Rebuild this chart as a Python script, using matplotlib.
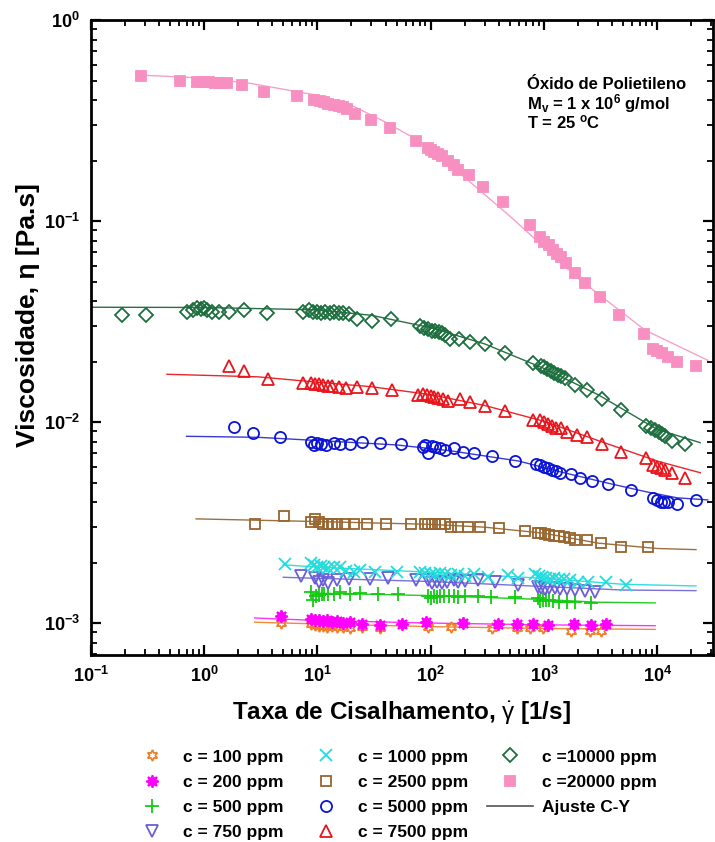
import numpy as np
import matplotlib
matplotlib.use('Agg')
import matplotlib.pyplot as plt
from matplotlib.lines import Line2D
from matplotlib.ticker import LogLocator, FuncFormatter, NullFormatter

plt.rcParams['font.family'] = ['Liberation Sans', 'DejaVu Sans']
plt.rcParams['mathtext.fontset'] = 'custom'
plt.rcParams['mathtext.rm'] = 'Liberation Sans'
plt.rcParams['mathtext.bf'] = 'Liberation Sans:bold'
plt.rcParams['mathtext.it'] = 'Liberation Sans:italic'

# ---- data (shear rate [1/s], viscosity [Pa.s]) ----
x_20000 = [0.28, 0.61, 0.87, 1.0, 1.1, 1.25, 1.4, 1.6, 2.17, 3.4, 6.6, 9.4, 10.5, 11.5, 12.5, 14, 15.5, 17, 18.4,
           21.7, 29.5, 44, 75, 94, 100, 108, 115, 125, 141, 160, 173, 216, 288, 433, 750, 920, 1000, 1100, 1200,
           1300, 1420, 1570, 1870, 2300, 3100, 4600, 7700, 9200, 10000, 11000, 12500, 15000, 21800]
y_20000 = [0.53, 0.50, 0.49, 0.49, 0.49, 0.488, 0.487, 0.485, 0.475, 0.44, 0.42, 0.40, 0.395, 0.39, 0.385, 0.38,
           0.375, 0.37, 0.36, 0.34, 0.32, 0.29, 0.25, 0.23, 0.225, 0.22, 0.215, 0.21, 0.20, 0.19, 0.18, 0.17, 0.148,
           0.124, 0.096, 0.083, 0.079, 0.076, 0.072, 0.069, 0.066, 0.062, 0.055, 0.049, 0.042, 0.034, 0.0275, 0.023,
           0.0225, 0.022, 0.021, 0.020, 0.019]

x_10000 = [0.19, 0.31, 0.71, 0.8, 0.87, 0.93, 1.0, 1.07, 1.18, 1.36, 1.66, 2.26, 3.6, 7.4, 8.5, 9.2, 10, 10.8, 11.7,
           12.8, 14, 15.5, 17, 19, 22.6, 30.6, 45, 80, 88, 95, 102, 110, 118, 125, 133, 147, 177, 222, 300, 450,
           800, 940, 1000, 1070, 1150, 1230, 1320, 1420, 1530, 1900, 2400, 3250, 4800, 8000, 8800, 9500, 10300,
           11000, 11800, 13400, 17600]
y_10000 = [0.034, 0.034, 0.0354, 0.036, 0.037, 0.0365, 0.037, 0.036, 0.0355, 0.0355, 0.0355, 0.036, 0.035, 0.0353,
           0.036, 0.0355, 0.0352, 0.035, 0.0355, 0.035, 0.0352, 0.035, 0.035, 0.0345, 0.0325, 0.032, 0.0325, 0.030,
           0.0295, 0.029, 0.0285, 0.0283, 0.028, 0.0277, 0.0272, 0.026, 0.026, 0.025, 0.0244, 0.022, 0.0196, 0.019,
           0.0187, 0.0183, 0.018, 0.0176, 0.0172, 0.0169, 0.0165, 0.0153, 0.0145, 0.013, 0.0115, 0.0096, 0.0093,
           0.0091, 0.0089, 0.0087, 0.0085, 0.0081, 0.0078]

x_7500 = [1.66, 2.26, 3.7, 7.4, 8.7, 9.5, 10.3, 11.2, 12.3, 13.5, 15.6, 18, 22.6, 30.6, 46, 78, 85, 92, 100, 108,
          117, 128, 141, 180, 222, 300, 450, 800, 920, 1000, 1080, 1170, 1270, 1410, 1600, 1970, 2400, 3250, 4800,
          8000, 9200, 10000, 10900, 11800, 13400, 17600]
y_7500 = [0.019, 0.0179, 0.0163, 0.0156, 0.0157, 0.0155, 0.0155, 0.0153, 0.0152, 0.0151, 0.015, 0.0148, 0.015,
          0.0148, 0.0145, 0.0137, 0.0138, 0.0136, 0.0135, 0.0133, 0.0132, 0.013, 0.0128, 0.013, 0.0126, 0.012,
          0.0114, 0.0102, 0.0102, 0.010, 0.0098, 0.0096, 0.0094, 0.0093, 0.0089, 0.0086, 0.0084, 0.0078, 0.0071,
          0.0066, 0.0061, 0.006, 0.0059, 0.0058, 0.0056, 0.0053]

x_5000 = [1.84, 2.7, 4.7, 8.7, 9.3, 10, 10.7, 11.8, 14, 16, 19.6, 25, 35.5, 55, 85, 89, 95, 102, 110, 120, 133, 160,
          195, 240, 350, 560, 850, 920, 1000, 1080, 1170, 1270, 1400, 1750, 2100, 2670, 3700, 5900, 9200, 9900,
          10700, 11500, 12500, 15000, 21800]
y_5000 = [0.0095, 0.0088, 0.0084, 0.0080, 0.0077, 0.0079, 0.0078, 0.0077, 0.0079, 0.0078, 0.0078, 0.008, 0.0079,
          0.0078, 0.0075, 0.0077, 0.0070, 0.0076, 0.0075, 0.0074, 0.0073, 0.0074, 0.0071, 0.0070, 0.0068, 0.0064,
          0.0062, 0.0061, 0.0060, 0.0059, 0.0058, 0.0057, 0.0056, 0.0055, 0.0053, 0.0051, 0.0049, 0.0046, 0.0042,
          0.0041, 0.0040, 0.0040, 0.0040, 0.0039, 0.0041]

x_2500 = [2.83, 5.1, 8.7, 9.5, 10.3, 11.2, 12.3, 13.5, 15, 17.7, 21, 27.7, 40, 67, 89, 95, 102, 110, 120, 133, 150,
          175, 214, 270, 405, 680, 880, 950, 1030, 1120, 1230, 1350, 1500, 1700, 1900, 2400, 3200, 4800, 8300]
y_2500 = [0.0031, 0.0034, 0.0032, 0.0033, 0.0032, 0.0031, 0.0031, 0.0031, 0.0031, 0.0031, 0.0031, 0.0031, 0.0031,
          0.0031, 0.0031, 0.0031, 0.0031, 0.0031, 0.0031, 0.0031, 0.0030, 0.0030, 0.0030, 0.0030, 0.00296, 0.00287,
          0.0028, 0.0028, 0.00278, 0.00275, 0.00272, 0.0027, 0.00268, 0.00265, 0.0026, 0.0026, 0.0025, 0.0024,
          0.0024]

x_1000 = [5.2, 8.7, 9.3, 10, 10.7, 11.5, 12.5, 14, 16, 18, 21, 24, 32, 50, 81, 90, 100, 110, 120, 135, 150, 175,
          200, 240, 320, 480, 590, 840, 900, 970, 1050, 1130, 1220, 1350, 1500, 1700, 2000, 2460, 3500, 5300]
y_1000 = [0.00197, 0.0020, 0.00195, 0.0019, 0.00192, 0.0019, 0.00188, 0.0019, 0.0019, 0.00182, 0.0018, 0.00183,
          0.0018, 0.0018, 0.0018, 0.00178, 0.00176, 0.00175, 0.00178, 0.00175, 0.00174, 0.00175, 0.00172, 0.00176,
          0.0017, 0.00173, 0.00168, 0.00175, 0.00172, 0.0017, 0.00168, 0.00166, 0.00168, 0.00165, 0.00165, 0.00163,
          0.0016, 0.0016, 0.0016, 0.00155]

x_750 = [7.1, 9.6, 10.4, 11.3, 12.3, 15, 19, 29, 42, 74, 94, 103, 113, 125, 140, 160, 175, 200, 260, 370, 590, 880,
         950, 1030, 1120, 1250, 1400, 1600, 1900, 2300, 2850]
y_750 = [0.00171, 0.00168, 0.0016, 0.00163, 0.00158, 0.00163, 0.00165, 0.00166, 0.00168, 0.00164, 0.00163, 0.00158,
         0.0016, 0.00159, 0.0016, 0.00163, 0.0016, 0.00162, 0.00163, 0.0016, 0.00155, 0.00152, 0.0015, 0.00148,
         0.0015, 0.00149, 0.00148, 0.00147, 0.00146, 0.00144, 0.00142]

x_500 = [8.7, 9.2, 9.7, 10.3, 11, 11.5, 12.5, 14, 16, 19.6, 24, 34, 51, 94, 100, 106, 113, 120, 130, 145, 160, 175,
         200, 260, 340, 550, 880, 930, 990, 1050, 1120, 1200, 1350, 1600, 1900, 2600]
y_500 = [0.00143, 0.0013, 0.00136, 0.00138, 0.0014, 0.00139, 0.0014, 0.0014, 0.00142, 0.0014, 0.00141, 0.0014,
         0.00139, 0.00137, 0.00133, 0.00136, 0.00135, 0.00137, 0.00136, 0.00136, 0.00136, 0.00135, 0.00136,
         0.00136, 0.00135, 0.00135, 0.00133, 0.00129, 0.00131, 0.0013, 0.0013, 0.00129, 0.00128, 0.00128, 0.00127,
         0.00126]

x_200 = [4.8, 8.7, 9.5, 10.3, 11.2, 12.2, 13.5, 15, 17, 19.6, 25, 36, 56, 91, 193, 390, 580, 800, 1080, 1850, 2600,
         3500]
y_200 = [0.00108, 0.00105, 0.00103, 0.00104, 0.00102, 0.00103, 0.00101, 0.00102, 0.001, 0.00101, 0.00099, 0.00098,
         0.00099, 0.00101, 0.001, 0.00099, 0.00099, 0.00099, 0.00098, 0.00099, 0.00098, 0.00099]

x_100 = [4.8, 8.7, 9.5, 10.3, 11.2, 12.2, 13.5, 15, 17, 19.6, 25, 36, 94, 150, 350, 580, 750, 980, 1730, 2550, 3200]
y_100 = [0.001, 0.00099, 0.00098, 0.00097, 0.00097, 0.00096, 0.00097, 0.00096, 0.00096, 0.00095, 0.00096, 0.00095,
         0.00096, 0.00096, 0.00095, 0.00095, 0.00094, 0.00094, 0.00091, 0.00091, 0.00091]

# Carreau-Yasuda fit curves
fx_20000 = [0.28, 1, 2.5, 10, 20, 40, 77, 200, 510, 2000, 7800, 28000]
fy_20000 = [0.533, 0.515, 0.486, 0.423, 0.377, 0.311, 0.253, 0.165, 0.105, 0.052, 0.0287, 0.0203]
fx_10000 = [0.1, 1, 10, 30, 100, 300, 1000, 3000, 10000, 24000]
fy_10000 = [0.0373, 0.0372, 0.0362, 0.034, 0.0295, 0.0245, 0.0185, 0.0137, 0.0092, 0.0079]
fx_7500 = [0.47, 3, 10, 30, 100, 300, 1000, 3000, 10000, 24000]
fy_7500 = [0.0173, 0.0168, 0.0158, 0.015, 0.0137, 0.0121, 0.0101, 0.0081, 0.0064, 0.0056]
fx_5000 = [0.7, 3, 10, 50, 150, 600, 1500, 3500, 8000, 15000, 28000]
fy_5000 = [0.0085, 0.0084, 0.0081, 0.0077, 0.0072, 0.0064, 0.0056, 0.0050, 0.0045, 0.0042, 0.0041]
fx_2500 = [0.85, 10, 100, 300, 1000, 3000, 10000, 22000]
fy_2500 = [0.0033, 0.0032, 0.0031, 0.0030, 0.0028, 0.0025, 0.00235, 0.00232]
fx_1000 = [5, 10, 100, 1000, 5000, 22000]
fy_1000 = [0.00195, 0.0019, 0.00179, 0.00167, 0.00156, 0.00153]
fx_750 = [5, 10, 100, 1000, 5000, 22000]
fy_750 = [0.00169, 0.00167, 0.00161, 0.00152, 0.00146, 0.00145]
fx_500 = [9.4, 100, 1000, 3000, 9600]
fy_500 = [0.00141, 0.00137, 0.00131, 0.00127, 0.00126]
fx_200 = [2.8, 10, 100, 1000, 9600]
fy_200 = [0.00106, 0.00103, 0.001, 0.00098, 0.00097]
fx_100 = [2.8, 10, 100, 1000, 9600]
fy_100 = [0.00101, 0.00099, 0.00096, 0.00094, 0.00093]

labels = ['c = 100 ppm', 'c = 200 ppm', 'c = 500 ppm', 'c = 750 ppm',
          'c = 1000 ppm', 'c = 2500 ppm', 'c = 5000 ppm', 'c = 7500 ppm',
          'c =10000 ppm', 'c =20000 ppm']

fig = plt.figure(figsize=(7.15, 8.42), dpi=100)
ax = fig.add_axes([0.127, 0.222, 0.870, 0.754])

# (x, y, fit x, fit y, marker, colour, filled, size, line colour)
series = [
    (x_100, y_100, fx_100, fy_100, (6, 1, 0), '#f07f2a', False, 8, '#f08a3a'),
    (x_200, y_200, fx_200, fy_200, (8, 1, 0), '#ff00ff', True, 9, '#ff33ff'),
    (x_500, y_500, fx_500, fy_500, '+', '#11cc11', False, 10, '#22cc22'),
    (x_750, y_750, fx_750, fy_750, 'v', '#6a5fd8', False, 8, '#7a70d8'),
    (x_1000, y_1000, fx_1000, fy_1000, 'x', '#22dddd', False, 9, '#33dddd'),
    (x_2500, y_2500, fx_2500, fy_2500, 's', '#99652e', False, 7, '#99703e'),
    (x_5000, y_5000, fx_5000, fy_5000, 'o', '#0a14d6', False, 8, '#3a3ad0'),
    (x_7500, y_7500, fx_7500, fy_7500, '^', '#e8161c', False, 8, '#e8262c'),
    (x_10000, y_10000, fx_10000, fy_10000, 'D', '#1d6e3e', False, 7, '#2a6e45'),
    (x_20000, y_20000, fx_20000, fy_20000, 's', '#f78fc0', True, 7, '#f7a0c8'),
]

for (xs, ys, fx, fy, mk, col, filled, ms, lcol), lab in zip(series, labels):
    ax.plot(fx, fy, '-', color=lcol, lw=1.0, zorder=2)
    ax.plot(xs, ys, linestyle='none', marker=mk, markersize=ms,
            markerfacecolor=col if filled else 'none', markeredgecolor=col,
            markeredgewidth=1.3, label=lab, zorder=3)

ax.set_xscale('log')
ax.set_yscale('log')
ax.set_xlim(0.1, 3.1e4)
ax.set_ylim(6.93e-4, 1.0)

for a in (ax.xaxis, ax.yaxis):
    a.set_major_locator(LogLocator(base=10, numticks=20))
    a.set_minor_locator(LogLocator(base=10, subs=np.arange(2, 10), numticks=20))
    a.set_minor_formatter(NullFormatter())
    a.set_major_formatter(FuncFormatter(lambda v, p: r'$\mathbf{10^{%d}}$' % round(np.log10(v))))

ax.tick_params(which='both', direction='in', top=True, right=True, labelsize=13)
ax.tick_params(which='major', length=7, width=1.6, pad=8)
ax.tick_params(which='minor', length=4, width=1.3)
for s in ax.spines.values():
    s.set_linewidth(2)

ax.set_xlabel('Taxa de Cisalhamento, $\\dot{\\mathrm{\\gamma}}$ [1/s]', fontsize=17.5, fontweight='bold', labelpad=9)
ax.set_ylabel('Viscosidade, η [Pa.s]', fontsize=19, fontweight='bold')
ax.yaxis.set_label_coords(-0.082, 0.535)

ax.text(0.701, 0.891, 'Óxido de Polietileno', transform=ax.transAxes, fontsize=12, fontweight='bold')
ax.text(0.701, 0.860, 'M$_\\mathbf{v}$ = 1 x 10$^\\mathbf{6}$ g/mol', transform=ax.transAxes,
        fontsize=12, fontweight='bold')
ax.text(0.701, 0.829, 'T = 25 $^\\mathbf{o}$C', transform=ax.transAxes, fontsize=12, fontweight='bold')

handles, labs = ax.get_legend_handles_labels()
handles.append(Line2D([], [], color='#555555', lw=1.2))
labs.append('Ajuste C-Y')
fig.legend(handles, labs, loc='upper left', bbox_to_anchor=(0.18, 0.110), ncol=3, frameon=False,
           prop={'weight': 'bold', 'size': 12.5}, handlelength=2.65, handletextpad=0.5, columnspacing=1.1,
           labelspacing=0.58, borderpad=0, borderaxespad=0)

fig.savefig('out.png', dpi=100)
